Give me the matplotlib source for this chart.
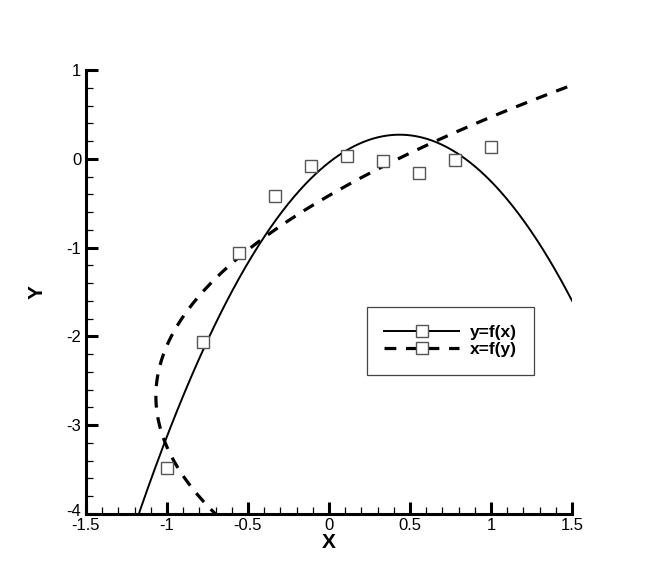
import matplotlib
matplotlib.use("Agg")
import matplotlib.pyplot as plt
import matplotlib.transforms as mtransforms
from matplotlib.lines import Line2D
from matplotlib.ticker import MultipleLocator
import numpy as np

plt.rcParams['font.family'] = ['Liberation Sans', 'DejaVu Sans']
plt.rcParams['lines.scale_dashes'] = False

# data points (squares)
x_data = [-1.0, -0.778, -0.556, -0.333, -0.111, 0.111, 0.333, 0.556, 0.778, 1.0]
y_data = [-3.48, -2.06, -1.06, -0.42, -0.08, 0.03, -0.02, -0.16, -0.01, 0.13]
series_labels = ["y=f(x)", "x=f(y)"]

# quadratic curve fits: y=f(x) and x=f(y)
p_yx = np.polyfit(x_data, y_data, 2)
p_xy = np.polyfit(y_data, x_data, 2)
xs = np.linspace(-1.5, 1.5, 400)
ys = np.linspace(-4.5, 1.2, 400)

fig = plt.figure(figsize=(6.5, 5.78), dpi=100)
ax = fig.add_axes([0.1323, 0.1107, 0.7477, 0.7682])

ax.plot(xs, np.polyval(p_yx, xs), color='black', lw=1.4, zorder=2)
ax.plot(np.polyval(p_xy, ys), ys, color='black', lw=2.3,
        dashes=(8.5, 7), zorder=2)
ax.plot(x_data, y_data, ls='none', marker='s', ms=8.5, mfc='white',
        mec='#555555', mew=1.0, zorder=3, clip_on=False)

ax.set_xlim(-1.5, 1.5)
ax.set_ylim(-4, 1)
ax.xaxis.set_major_locator(MultipleLocator(0.5))
ax.xaxis.set_minor_locator(MultipleLocator(0.1))
ax.yaxis.set_major_locator(MultipleLocator(1))
ax.yaxis.set_minor_locator(MultipleLocator(0.2))
ax.xaxis.set_major_formatter(plt.FuncFormatter(lambda v, p: f"{v:g}"))
ax.yaxis.set_major_formatter(plt.FuncFormatter(lambda v, p: f"{v:g}"))

for s in ['top', 'right']:
    ax.spines[s].set_visible(False)
for s in ['left', 'bottom']:
    ax.spines[s].set_linewidth(2.2)
ax.tick_params(which='major', direction='in', length=8.5, width=2.2,
               labelsize=12, pad=3)
ax.tick_params(which='minor', direction='in', length=5, width=0.9)
ax.tick_params(axis='y', which='major', pad=3.5)

ax.set_xlabel("X", fontsize=15, fontweight='bold', labelpad=0)
ax.set_ylabel("Y", fontsize=15, fontweight='bold', labelpad=14)

# nudge the bottom y label up a little so it clears "-1.5"
fig.canvas.draw()
for lab in ax.get_yticklabels():
    if lab.get_text() == "-4":
        lab.set_transform(lab.get_transform() +
                          mtransforms.ScaledTranslation(0, 3 / 72, fig.dpi_scale_trans))

handles = [
    Line2D([], [], color='black', lw=1.4, marker='s', ms=8.5, mfc='white',
           mec='#555555', mew=1.0),
    Line2D([], [], color='black', lw=2.3, dashes=(8.5, 7), marker='s',
           ms=8.5, mfc='white', mec='#555555', mew=1.0),
]
leg = ax.legend(handles, series_labels, loc='upper left',
                bbox_to_anchor=(0.578, 0.466), fancybox=False, framealpha=1,
                edgecolor='#444444', handlelength=4.3, numpoints=1,
                prop={'weight': 'bold', 'size': 12.5}, borderpad=1.0,
                borderaxespad=0, labelspacing=0.15, handletextpad=0.63)
leg.get_frame().set_linewidth(0.9)

fig.savefig("out.png", dpi=100)
